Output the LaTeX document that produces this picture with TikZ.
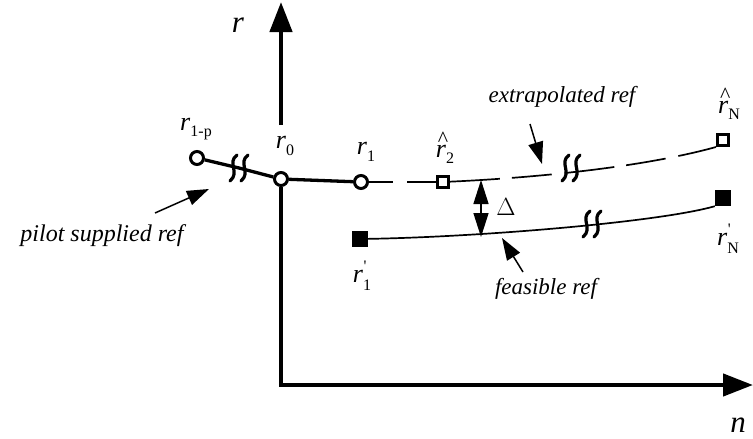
\documentclass[tikz,border=0pt]{standalone}
\usepackage{fontspec}
\setmainfont{Liberation Serif}
\usetikzlibrary{arrows.meta}

\newcommand{\subsz}{\fontsize{16}{18}\selectfont\upshape}
\newcommand{\rsub}[1]{\textit{r}\raisebox{-0.55ex}{\subsz #1}}
\newcommand{\rprm}[1]{\textit{r}\makebox[0pt][l]{\raisebox{0.9ex}{\subsz\kern0.5pt\textquotesingle}}\raisebox{-0.65ex}{\subsz #1}}
\newcommand{\rhat}[1]{\makebox[0pt][l]{\kern2pt\raisebox{10.5pt}{\fontsize{22}{24}\selectfont\textasciicircum}}\textit{r}\raisebox{-0.55ex}{\subsz #1}}

\begin{document}
\begin{tikzpicture}[
  x=1pt, y=-1pt,
  axis/.style={line width=4.4pt, line join=miter, -{Triangle[length=30pt,width=22pt]}},
  track/.style={line width=3.3pt},
  refline/.style={line width=1.7pt},
  ptr/.style={line width=1.5pt, -{Triangle[length=22pt,width=15pt]}},
  gap/.style={line width=1.5pt,
              {Triangle[length=24pt,width=15pt]}-{Triangle[length=24pt,width=15pt]}},
  opendot/.style={circle, draw, line width=3pt, fill=white, inner sep=0pt, minimum size=13pt},
  opensq/.style={rectangle, draw, line width=3pt, fill=white, inner sep=0pt, minimum size=11pt},
  fullsq/.style={rectangle, fill=black, inner sep=0pt, minimum size=16pt},
  sym/.style={font=\fontsize{26}{28}\selectfont, inner sep=0pt},
  axlab/.style={font=\fontsize{31}{34}\selectfont\itshape, inner sep=0pt},
  captxt/.style={font=\fontsize{23}{27}\selectfont\itshape, inner sep=0pt},
  brk/.pic={\foreach \dx in {-5.5,5.5}
      \draw[line width=3.2pt, line cap=round]
        (\dx+3.5,-13) .. controls (\dx-7,-5) and (\dx+7,4) .. (\dx-3.5,13);},
]
\useasboundingbox (0,0) rectangle (753,439);

% ---------------- axes ----------------
\coordinate (ytop) at (281,2);
\coordinate (axBreak) at (281,125);
\coordinate (O) at (281,385);
\coordinate (xend) at (753,385);
\node[opendot] (r0) at (281,179) {};
\draw[axis] (axBreak) -- (ytop);
\draw[axis] (r0) -- (O) -- (xend);
\node[axlab] (rax) at (238,25) {r};
\node[axlab] (nax) at (738,425) {n};

% ---------------- pilot part ----------------
\coordinate (brkA) at (239,168);
\node[opendot] (r1p) at (197,158) {};
\node[opendot] (r1) at (361,182) {};
\draw[track] (r1p) -- (brkA) -- (r0);
\draw[track] (r0) -- (r1);
\pic at (brkA) {brk};

\node[sym] (lr1p) at (196,129) {\rsub{1-p}};
\node[sym] (lr0) at (285,146) {\rsub{0}};
\node[sym] (lr1) at (366,152) {\rsub{1}};

% ---------------- extrapolated ref ----------------
\node[opensq] (r2) at (443,182) {};
\node[opensq] (rN) at (723,140) {};
\coordinate (brkB) at (571,168);
\draw[refline, dash pattern=on 24pt off 14pt on 40pt] (r1) -- (r2);
\draw[refline, dash pattern=on 50pt off 12pt on 40pt off 13pt]
  (r2) .. controls (530,178) and (640,168) .. (rN.south west);
\pic at (brkB) {brk};
\node[sym] (lr2) at (445,148) {\rhat{2}};
\node[sym] (lrN) at (729,104) {\rhat{N}};

% ---------------- feasible ref ----------------
\node[fullsq] (q1) at (360,239) {};
\node[fullsq] (qN) at (723,198) {};
\coordinate (brkC) at (592,224);
\draw[refline] (q1) .. controls (480,237) and (660,222) .. (qN.south west);
\pic at (brkC) {brk};
\node[sym] (lq1) at (362,276) {\rprm{1}};
\node[sym] (lqN) at (728,239) {\rprm{N}};

% ---------------- gap and captions ----------------
\coordinate (dTop) at (481,180);
\coordinate (dBot) at (481,237);
\draw[gap] (dBot) -- (dTop);
\node[font=\fontsize{27}{28}\selectfont, inner sep=0pt] (delta) at (506,207) {$\Delta$};

\node[captxt] (extra) at (562,97) {extrapolated ref};
\coordinate (extraTail) at (530,124);
\coordinate (extraTip) at (542,164);
\draw[ptr] (extraTail) -- (extraTip);

\node[captxt] (feas) at (546,289) {feasible ref};
\coordinate (feasTail) at (523,272);
\coordinate (feasTip) at (502,238);
\draw[ptr] (feasTail) -- (feasTip);

\node[captxt, font=\fontsize{24}{28}\selectfont\itshape] (pilot) at (102,236) {pilot supplied ref};
\coordinate (pilotTail) at (155,213);
\coordinate (pilotTip) at (209,189);
\draw[ptr] (pilotTail) -- (pilotTip);
\end{tikzpicture}
\end{document}
